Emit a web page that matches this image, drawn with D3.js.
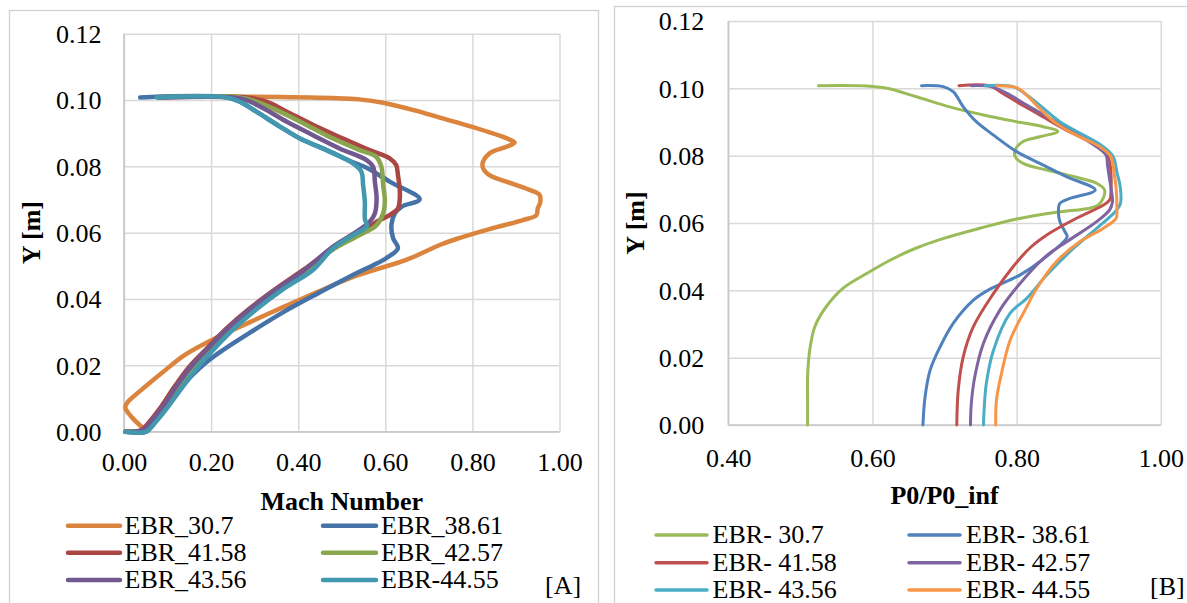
<!DOCTYPE html>
<html><head><meta charset="utf-8">
<script src="https://cdn.jsdelivr.net/npm/d3@7/dist/d3.min.js"></script>
<style>
html,body{margin:0;padding:0;background:#fff;overflow:hidden}
svg{display:block}
</style></head><body>
<svg id="c" width="1187" height="603" font-family="Liberation Serif"></svg>
<script>
// ---------- Data: panel A (Mach number vs Y) ----------
const seriesA = ["EBR_30.7","EBR_38.61","EBR_41.58","EBR_42.57","EBR_43.56","EBR-44.55"];
const colorsA = ["#DB843D","#4572A7","#AA4643","#89A54E","#71588F","#4198AF"];
const machXTicks = [0,0.2,0.4,0.6,0.8,1.0];
const machYTicks = [0,0.02,0.04,0.06,0.08,0.10,0.12];
const mach_30_7 = [[0.08,0.101],[0.30,0.101],[0.48,0.1006],[0.54,0.1002],[0.595,0.0992],[0.67,0.0968],[0.725,0.0947],[0.80,0.0919],[0.878,0.0885],[0.897,0.0872],[0.878,0.0859],[0.839,0.0839],[0.823,0.0804],[0.836,0.0776],[0.878,0.0754],[0.931,0.0729],[0.954,0.0714],[0.956,0.0693],[0.950,0.0673],[0.947,0.0653],[0.916,0.0638],[0.839,0.0611],[0.763,0.0581],[0.725,0.0563],[0.648,0.0518],[0.537,0.0472],[0.445,0.0422],[0.368,0.0377],[0.292,0.0332],[0.216,0.0286],[0.139,0.0231],[0.086,0.0176],[0.040,0.0126],[0.009,0.0090],[0.003,0.0073],[0.017,0.0045],[0.040,0.0015],[0.052,0.0],[0.003,0.0]];
const mach_38_61 = [[0.037,0.1008],[0.235,0.1008],[0.266,0.0995],[0.304,0.0965],[0.358,0.092],[0.404,0.0884],[0.465,0.0849],[0.526,0.0812],[0.557,0.0796],[0.610,0.0754],[0.679,0.0701],[0.637,0.0678],[0.622,0.0658],[0.614,0.0623],[0.618,0.0583],[0.629,0.0553],[0.602,0.0523],[0.572,0.0502],[0.537,0.0480],[0.445,0.0417],[0.368,0.0362],[0.292,0.0301],[0.216,0.0236],[0.177,0.0196],[0.139,0.0146],[0.109,0.0095],[0.078,0.0045],[0.059,0.0010],[0.051,0.0],[0.003,0.0]];
const mach_41_58 = [[0.08,0.1008],[0.281,0.1008],[0.327,0.0995],[0.381,0.096],[0.442,0.092],[0.503,0.0884],[0.564,0.0849],[0.610,0.0824],[0.625,0.0804],[0.629,0.0774],[0.633,0.0734],[0.633,0.0698],[0.629,0.0673],[0.610,0.0653],[0.580,0.0633],[0.549,0.0603],[0.480,0.0553],[0.414,0.0490],[0.350,0.0432],[0.289,0.0372],[0.236,0.0312],[0.190,0.0251],[0.150,0.0196],[0.116,0.0136],[0.085,0.0075],[0.055,0.0025],[0.040,0.0005],[0.003,0.0]];
const mach_42_57 = [[0.08,0.1008],[0.266,0.1008],[0.304,0.0995],[0.358,0.0965],[0.419,0.0925],[0.480,0.0884],[0.541,0.0849],[0.579,0.0829],[0.591,0.0799],[0.595,0.0744],[0.599,0.0698],[0.595,0.0658],[0.580,0.0623],[0.549,0.0598],[0.484,0.0553],[0.420,0.0490],[0.358,0.0432],[0.296,0.0372],[0.243,0.0312],[0.197,0.0251],[0.158,0.0196],[0.123,0.0136],[0.092,0.0075],[0.062,0.0025],[0.046,0.0005],[0.003,0.0]];
const mach_43_56 = [[0.08,0.1008],[0.251,0.1008],[0.281,0.100],[0.323,0.0973],[0.373,0.0935],[0.434,0.0894],[0.495,0.0854],[0.557,0.0819],[0.572,0.0799],[0.576,0.0754],[0.580,0.0703],[0.576,0.0658],[0.564,0.0633],[0.534,0.0603],[0.480,0.0558],[0.414,0.0487],[0.353,0.0432],[0.292,0.0372],[0.239,0.0312],[0.193,0.0251],[0.154,0.0196],[0.120,0.0136],[0.089,0.0075],[0.059,0.0025],[0.044,0.0005],[0.003,0.0]];
const mach_44_55 = [[0.075,0.1008],[0.235,0.1008],[0.266,0.0995],[0.304,0.0965],[0.358,0.092],[0.404,0.0884],[0.465,0.0849],[0.526,0.0809],[0.545,0.0784],[0.549,0.0744],[0.553,0.0693],[0.553,0.0643],[0.557,0.0618],[0.526,0.0593],[0.480,0.0553],[0.433,0.0487],[0.368,0.0432],[0.307,0.0372],[0.254,0.0312],[0.208,0.0251],[0.170,0.0196],[0.135,0.0136],[0.101,0.0075],[0.070,0.0025],[0.051,0.0],[0.003,0.0]];
const dataA = [mach_30_7, mach_38_61, mach_41_58, mach_42_57, mach_43_56, mach_44_55];

// ---------- Data: panel B (P0/P0_inf vs Y) ----------
const seriesB = ["EBR- 30.7","EBR- 38.61","EBR- 41.58","EBR- 42.57","EBR- 43.56","EBR- 44.55"];
const colorsB = ["#9BBB59","#4F81BD","#C0504D","#8064A2","#4BACC6","#F79646"];
const presXTicks = [0.4,0.6,0.8,1.0];
const presYTicks = [0,0.02,0.04,0.06,0.08,0.10,0.12];
const pres_30_7 = [[0.525,0.1008],[0.592,0.1007],[0.620,0.1000],[0.661,0.0975],[0.707,0.0945],[0.754,0.0921],[0.800,0.0901],[0.837,0.0886],[0.857,0.0872],[0.832,0.0856],[0.809,0.0842],[0.798,0.0817],[0.798,0.0797],[0.809,0.0777],[0.842,0.0757],[0.879,0.0738],[0.911,0.0718],[0.922,0.0698],[0.920,0.0673],[0.913,0.0653],[0.901,0.0644],[0.855,0.0632],[0.800,0.0612],[0.750,0.0585],[0.700,0.0555],[0.660,0.0525],[0.625,0.0490],[0.592,0.0450],[0.559,0.0406],[0.536,0.0352],[0.520,0.0292],[0.513,0.0223],[0.510,0.0144],[0.510,0.0074],[0.510,0.0]];
const pres_38_61 = [[0.668,0.1008],[0.698,0.1005],[0.712,0.099],[0.726,0.0945],[0.744,0.0901],[0.768,0.0861],[0.800,0.0812],[0.837,0.0772],[0.869,0.0738],[0.909,0.0698],[0.874,0.0673],[0.860,0.0658],[0.858,0.0634],[0.860,0.0604],[0.867,0.0574],[0.870,0.0559],[0.832,0.0485],[0.805,0.0446],[0.760,0.0400],[0.740,0.0371],[0.712,0.0302],[0.694,0.0233],[0.680,0.0163],[0.673,0.0084],[0.670,0.0]];
const pres_41_58 = [[0.720,0.1008],[0.763,0.1007],[0.781,0.0985],[0.804,0.0955],[0.832,0.0921],[0.869,0.0876],[0.901,0.0841],[0.924,0.0807],[0.929,0.0782],[0.931,0.0743],[0.931,0.0703],[0.929,0.0668],[0.920,0.0653],[0.883,0.0614],[0.846,0.0570],[0.818,0.0525],[0.795,0.0470],[0.768,0.0391],[0.740,0.0292],[0.726,0.0203],[0.719,0.0104],[0.717,0.0]];
const pres_42_57 = [[0.737,0.1008],[0.765,0.1005],[0.791,0.0980],[0.814,0.0950],[0.842,0.0916],[0.874,0.0876],[0.901,0.0841],[0.924,0.0802],[0.926,0.0772],[0.928,0.0743],[0.931,0.0703],[0.933,0.0663],[0.929,0.0639],[0.911,0.0604],[0.870,0.0545],[0.840,0.0500],[0.805,0.0421],[0.777,0.0342],[0.754,0.0243],[0.742,0.0144],[0.737,0.0060],[0.736,0.0]];
const pres_43_56 = [[0.756,0.1008],[0.795,0.1005],[0.814,0.098],[0.832,0.095],[0.860,0.0901],[0.893,0.0861],[0.920,0.0827],[0.934,0.0797],[0.939,0.0752],[0.944,0.0703],[0.944,0.0658],[0.937,0.0634],[0.911,0.0584],[0.879,0.0525],[0.842,0.0446],[0.814,0.0376],[0.791,0.0332],[0.768,0.0223],[0.758,0.0124],[0.755,0.0050],[0.754,0.0]];
const pres_44_55 = [[0.772,0.1008],[0.800,0.1002],[0.814,0.098],[0.832,0.094],[0.855,0.0896],[0.883,0.0861],[0.915,0.0827],[0.931,0.0797],[0.935,0.0752],[0.938,0.0703],[0.939,0.0644],[0.938,0.0614],[0.920,0.0584],[0.888,0.0545],[0.855,0.0485],[0.828,0.0406],[0.814,0.0351],[0.791,0.0252],[0.779,0.0153],[0.772,0.0074],[0.771,0.0]];
const dataB = [pres_30_7, pres_38_61, pres_41_58, pres_42_57, pres_43_56, pres_44_55];

// ---------- Drawing ----------
const svg = d3.select("#c");
const FONT = 26;
const FAM = "Liberation Serif";
const T = sel => sel.attr("font-family", FAM).attr("font-size", FONT).attr("fill","#000");

svg.append("rect").attr("x",9.5).attr("y",10.5).attr("width",589).attr("height",620)
  .attr("fill","none").attr("stroke","#d0d0d0").attr("stroke-width",1.3);
svg.append("rect").attr("x",614.5).attr("y",6.5).attr("width",620).attr("height",620)
  .attr("fill","none").attr("stroke","#d0d0d0").attr("stroke-width",1.3);

function panel(cfg){
  const g = svg.append("g");
  const x = d3.scaleLinear().domain(cfg.xDomain).range(cfg.xRange);
  const y = d3.scaleLinear().domain([0,0.12]).range(cfg.yRange);
  const w = cfg.xRange[1]-cfg.xRange[0], h = cfg.yRange[0]-cfg.yRange[1];
  const ay = g.append("g").attr("transform",`translate(${cfg.xRange[0]},0)`)
    .call(d3.axisLeft(y).tickValues(cfg.yTicks).tickSize(-w).tickPadding(cfg.yPad).tickFormat(d3.format(".2f")));
  const ax = g.append("g").attr("transform",`translate(0,${cfg.yRange[0]})`)
    .call(d3.axisBottom(x).tickValues(cfg.xTicks).tickSize(-h).tickPadding(cfg.xPad).tickFormat(d3.format(".2f")));
  [ax,ay].forEach(a=>{
    a.attr("font-family",FAM).attr("font-size",FONT);
    a.select(".domain").remove();
    a.selectAll(".tick line").attr("stroke","#d9d9d9").attr("stroke-width",1.5);
    a.selectAll(".tick text").call(T);
  });
  ay.selectAll(".tick text").attr("dy","0.34em");
  g.append("line").attr("x1",x(cfg.xDomain[0])).attr("x2",x(cfg.xDomain[1])).attr("y1",y(0)).attr("y2",y(0))
    .attr("stroke","#c8c8c8").attr("stroke-width",1.6);
  g.append("line").attr("x1",x(cfg.xDomain[0])).attr("x2",x(cfg.xDomain[0])).attr("y1",y(0)).attr("y2",y(0.12))
    .attr("stroke","#c8c8c8").attr("stroke-width",1.6);
  const line = d3.line().x(d=>x(d[0])).y(d=>y(d[1])).curve(d3.curveCatmullRom.alpha(0.5));
  cfg.data.forEach((s,i)=>{
    g.append("path").datum(s).attr("d",line).attr("fill","none")
      .attr("stroke",cfg.colors[i]).attr("stroke-width",cfg.lw)
      .attr("stroke-linejoin","round").attr("stroke-linecap","round");
  });
  g.append("text").attr("x",(cfg.xRange[0]+cfg.xRange[1])/2).attr("y",cfg.xTitleY)
    .attr("text-anchor","middle").attr("font-weight","bold").call(T).text(cfg.xTitle);
  g.append("text").attr("transform",`translate(${cfg.yTitleX},${(cfg.yRange[0]+cfg.yRange[1])/2}) rotate(-90)`)
    .attr("text-anchor","middle").attr("font-weight","bold").call(T).text("Y [m]");
  cfg.names.forEach((n,i)=>{
    const col = i%2, row = Math.floor(i/2);
    const lx = cfg.legX[col], ly = cfg.legY[row];
    g.append("line").attr("x1",lx[0]).attr("x2",lx[1]).attr("y1",ly).attr("y2",ly)
      .attr("stroke",cfg.colors[i]).attr("stroke-width",cfg.legLw).attr("stroke-linecap","round");
    g.append("text").attr("x",lx[2]).attr("y",ly+8.3).call(T).text(n);
  });
  g.append("text").attr("x",cfg.tag[0]).attr("y",cfg.tag[1]).call(T).text(cfg.tag[2]);
}

panel({
  xDomain:[0,1], xRange:[124,559.5], yRange:[431.7,33.7],
  xTicks:machXTicks, yTicks:machYTicks, yPad:22.6, xPad:20.5,
  data:dataA, colors:colorsA, names:seriesA, lw:4.5, legLw:4.5,
  xTitle:"Mach Number", xTitleY:510, yTitleX:39.5,
  legX:[[68,120,124.5],[323,376,381]], legY:[525.7,552.8,580],
  tag:[545,593.5,"[A]"]
});
panel({
  xDomain:[0.4,1], xRange:[728.3,1160.8], yRange:[425,21],
  xTicks:presXTicks, yTicks:presYTicks, yPad:24, xPad:23.5,
  data:dataB, colors:colorsB, names:seriesB, lw:3, legLw:3.5,
  xTitle:"P0/P0_inf", xTitleY:503.8, yTitleX:644.3,
  legX:[[656,707,712.6],[909,960,966]], legY:[535,562.7,590],
  tag:[1150,595,"[B]"]
});
</script>
</body></html>
